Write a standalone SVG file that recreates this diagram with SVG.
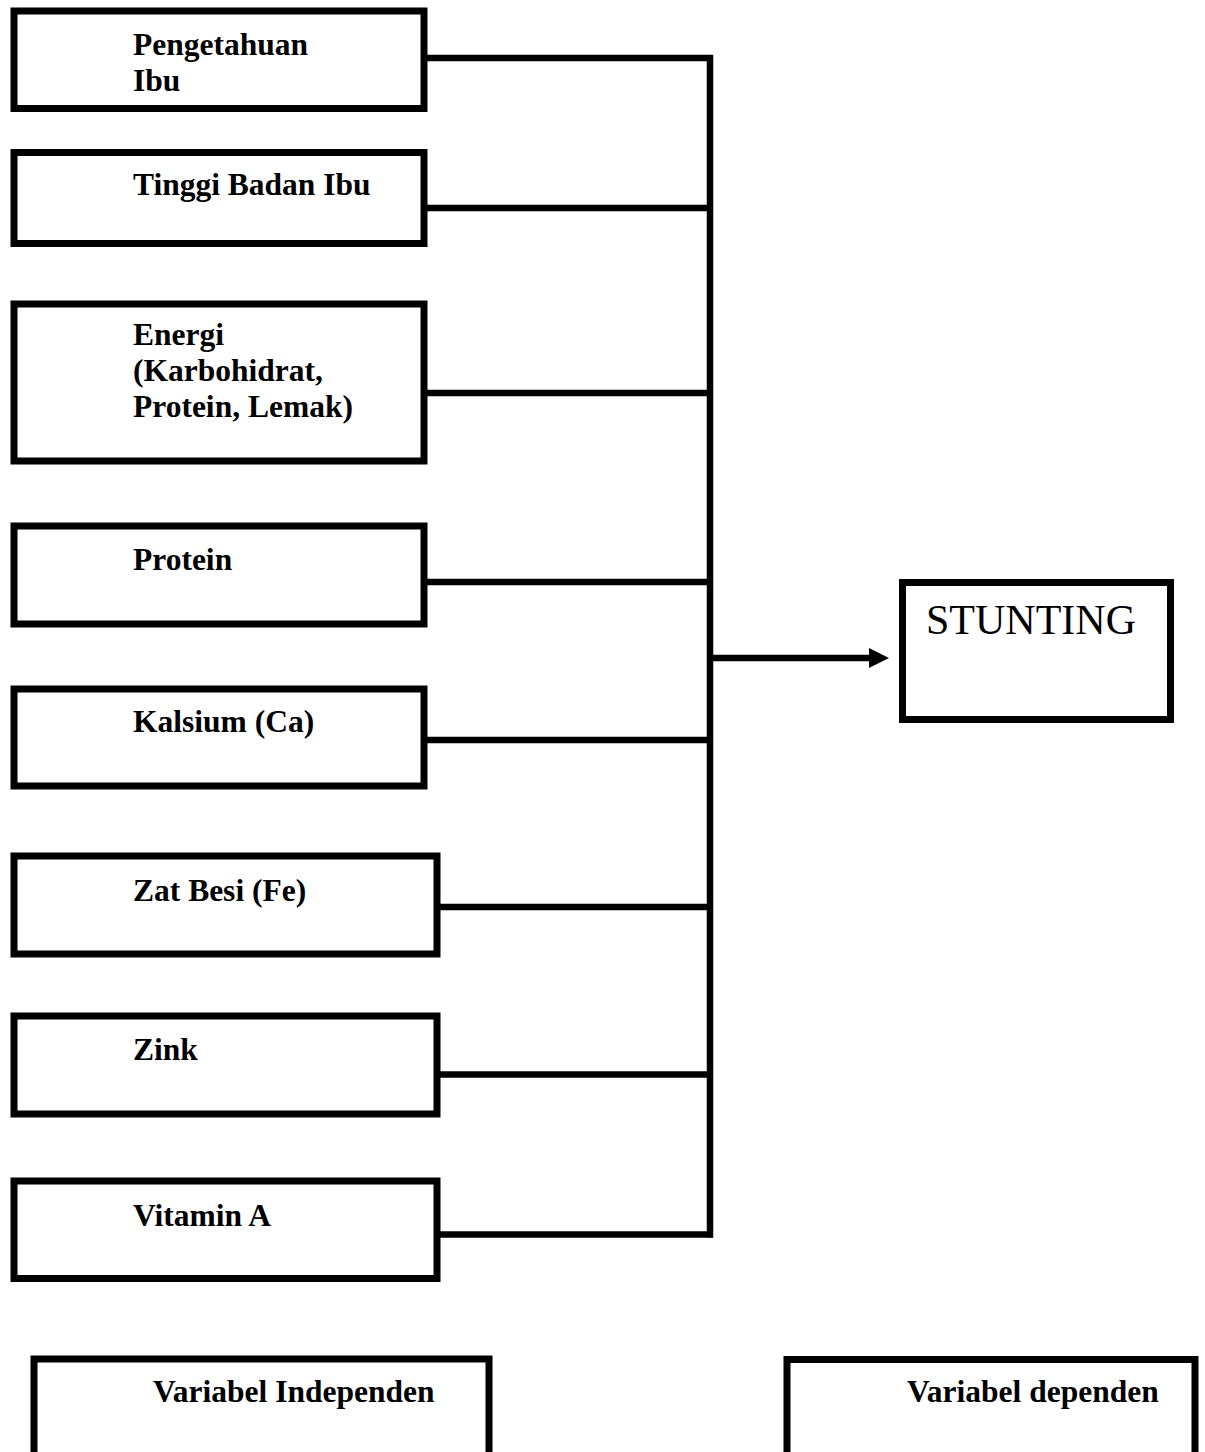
<svg xmlns="http://www.w3.org/2000/svg" width="1205" height="1452" viewBox="0 0 1205 1452">
  <style>
    .box { fill: #ffffff; stroke: #000000; stroke-width: 7; }
    .lbl { font-family: "Liberation Serif", "Times New Roman", serif; font-weight: bold; font-size: 31.5px; fill: #000000; }
    .big { font-family: "Liberation Serif", "Times New Roman", serif; font-size: 42px; fill: #000000; }
    .conn { stroke: #000000; stroke-width: 6.5; fill: none; }
  </style>
  <rect x="0" y="0" width="1205" height="1452" fill="#ffffff"/>

  <g id="connectors">
    <line class="conn" x1="424" y1="58" x2="713" y2="58"/>
    <line class="conn" x1="424" y1="208" x2="713" y2="208"/>
    <line class="conn" x1="424" y1="393" x2="713" y2="393"/>
    <line class="conn" x1="424" y1="582" x2="713" y2="582"/>
    <line class="conn" x1="424" y1="740" x2="713" y2="740"/>
    <line class="conn" x1="437" y1="907" x2="713" y2="907"/>
    <line class="conn" x1="437" y1="1074.5" x2="713" y2="1074.5"/>
    <line class="conn" x1="437" y1="1234.5" x2="713" y2="1234.5"/>
    <line class="conn" x1="710" y1="55" x2="710" y2="1237.5"/>
    <line class="conn" x1="710" y1="658" x2="872" y2="658"/>
    <polygon points="869,648 889,658 869,668" fill="#000000"/>
  </g>

  <g id="node-pengetahuan">
    <rect class="box" x="14" y="11" width="410" height="97.5"/>
    <text class="lbl" x="133" y="55">Pengetahuan</text>
    <text class="lbl" x="133" y="91">Ibu</text>
  </g>
  <g id="node-tinggi">
    <rect class="box" x="14" y="152.5" width="410" height="91"/>
    <text class="lbl" x="133" y="195">Tinggi Badan Ibu</text>
  </g>
  <g id="node-energi">
    <rect class="box" x="14" y="304" width="410" height="157"/>
    <text class="lbl" x="133" y="345">Energi</text>
    <text class="lbl" x="133" y="381">(Karbohidrat,</text>
    <text class="lbl" x="133" y="417">Protein, Lemak)</text>
  </g>
  <g id="node-protein">
    <rect class="box" x="14" y="526" width="410" height="98"/>
    <text class="lbl" x="133" y="570">Protein</text>
  </g>
  <g id="node-kalsium">
    <rect class="box" x="14" y="689" width="410" height="97"/>
    <text class="lbl" x="133" y="732">Kalsium (Ca)</text>
  </g>
  <g id="node-zatbesi">
    <rect class="box" x="14" y="856" width="423" height="98"/>
    <text class="lbl" x="133" y="901">Zat Besi (Fe)</text>
  </g>
  <g id="node-zink">
    <rect class="box" x="14" y="1016" width="423" height="98"/>
    <text class="lbl" x="133" y="1060">Zink</text>
  </g>
  <g id="node-vitamina">
    <rect class="box" x="14" y="1181" width="423" height="97.5"/>
    <text class="lbl" x="133" y="1226">Vitamin A</text>
  </g>
  <g id="node-stunting">
    <rect class="box" x="902.5" y="582.5" width="268" height="137"/>
    <text class="big" x="926" y="634">STUNTING</text>
  </g>
  <g id="legend-independen">
    <rect class="box" x="34" y="1359" width="455" height="200"/>
    <text class="lbl" x="153" y="1402">Variabel Independen</text>
  </g>
  <g id="legend-dependen">
    <rect class="box" x="787" y="1359.5" width="408" height="200"/>
    <text class="lbl" x="907" y="1402">Variabel dependen</text>
  </g>
</svg>
